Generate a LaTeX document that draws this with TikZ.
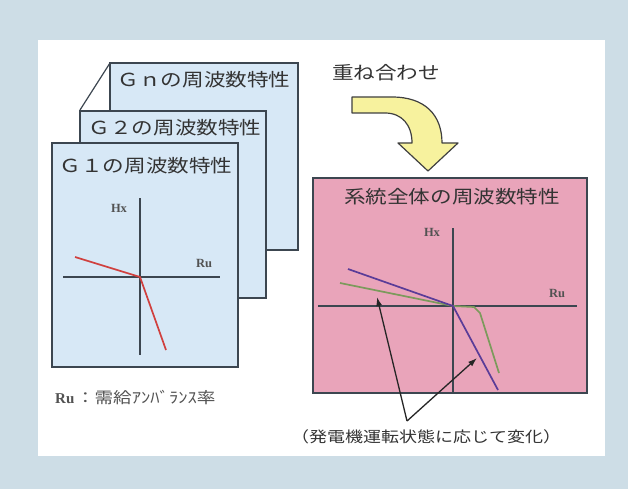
\documentclass[tikz,border=0pt]{standalone}
\usepackage{fontspec}
\setmainfont{Liberation Serif}
\newfontfamily\jp[FakeStretch=1.2]{Noto Sans CJK JP}
\usetikzlibrary{arrows.meta}
\definecolor{outerbg}{HTML}{CDDDE6}
\definecolor{boxblue}{HTML}{D7E8F6}
\definecolor{boxline}{HTML}{3C4650}
\definecolor{pinkbox}{HTML}{E9A4BA}
\definecolor{txt}{HTML}{333333}
\definecolor{redline}{HTML}{D0403E}
\definecolor{purpline}{HTML}{5A3C98}
\definecolor{greenline}{HTML}{7C9A5C}
\definecolor{arrowyellow}{HTML}{F7F29E}
\tikzset{
  panel/.style={draw=boxline, line width=1.8pt, fill=boxblue},
  title/.style={font=\jp\fontsize{18}{18}\selectfont, text=txt, inner sep=0pt},
  axislbl/.style={font=\bfseries\fontsize{12.5}{12.5}\selectfont, text=txt!85, inner sep=0pt},
  axis/.style={draw=boxline, line width=1.6pt},
  callout/.style={draw=black!85, line width=1.3pt, -{Latex[length=9pt,width=6pt]}},
}
\begin{document}
\begin{tikzpicture}[x=1pt,y=-1pt]
\useasboundingbox (0,0) rectangle (628,489);
\fill[outerbg] (0,0) rectangle (628,489);
\fill[white] (38,40) rectangle (605,456);

% stacked panels
\draw[boxline, line width=1.2pt] (110,63) -- (80,110);
\draw[boxline, line width=1.2pt] (298,64) -- (266,111);
\draw[panel] (110,63) rectangle (298,250);
\node[title] (tn) at (204,80) {Ｇｎの周波数特性};
\draw[panel] (80,111) rectangle (266,298);
\node[title] (t2) at (175,128) {Ｇ２の周波数特性};
\draw[panel] (52,143) rectangle (238,367);
\node[title] (t1) at (146,166) {Ｇ１の周波数特性};

% G1 graph
\coordinate (o1) at (140,277);
\coordinate (v1t) at (140,198);
\coordinate (v1b) at (140,355);
\coordinate (h1l) at (63,277);
\coordinate (h1r) at (220,277);
\draw[axis] (v1t) -- (v1b);
\draw[axis] (h1l) -- (h1r);
\node[axislbl] (hx1) at (119,208) {Hx};
\node[axislbl] (ru1) at (204,263) {Ru};
\coordinate (r1a) at (75,257);
\coordinate (r1b) at (166,350);
\draw[redline, line width=1.7pt] (r1a) -- (o1) -- (r1b);

\node[anchor=west, inner sep=0pt, text=txt!85] (legend) at (55,398)
  {{\bfseries\fontsize{15}{15}\selectfont Ru}\,{\jp\fontsize{15.5}{15.5}\selectfont ：需給ｱﾝﾊﾞﾗﾝｽ率}};

% superposition arrow
\node[title] (sup) at (386,73) {重ね合わせ};
\draw[fill=arrowyellow, draw=black!75, line width=1.2pt, line join=round]
  (352,97) -- (392,97) .. controls (425,97) and (442,115) .. (442,143)
  -- (458,143) -- (428,171) -- (398,143) -- (412,143)
  .. controls (412,125) and (402,113) .. (385,113) -- (352,113) -- cycle;

% system box
\draw[draw=boxline, line width=1.8pt, fill=pinkbox] (313,178) rectangle (587,393);
\node[title] (ts) at (452,197) {系統全体の周波数特性};
\coordinate (o2) at (453,306);
\draw[axis] (453,228) -- (453,393);
\draw[axis] (318,306) -- (577,306);
\node[axislbl] (hx2) at (432,232) {Hx};
\node[axislbl] (ru2) at (557,293) {Ru};
\coordinate (ga) at (340,283);
\coordinate (gb) at (474,307);
\coordinate (gc) at (480,313);
\coordinate (gd) at (499,373);
\draw[greenline, line width=1.7pt, line join=round] (ga) -- (o2) -- (gb) -- (gc) -- (gd);
\coordinate (pa) at (348,269);
\coordinate (pb) at (498,390);
\draw[purpline, line width=1.7pt] (pa) -- (o2) -- (pb);

% callouts
\coordinate (apex) at (407,421);
\coordinate (c1) at (377,297);
\coordinate (c2) at (477,358);
\draw[callout] (apex) -- (c1);
\draw[callout] (apex) -- (c2);
\node[inner sep=0pt, text=txt, font=\jp\fontsize{15}{15}\selectfont] (note) at (426,437) {（発電機運転状態に応じて変化）};
\end{tikzpicture}
\end{document}
